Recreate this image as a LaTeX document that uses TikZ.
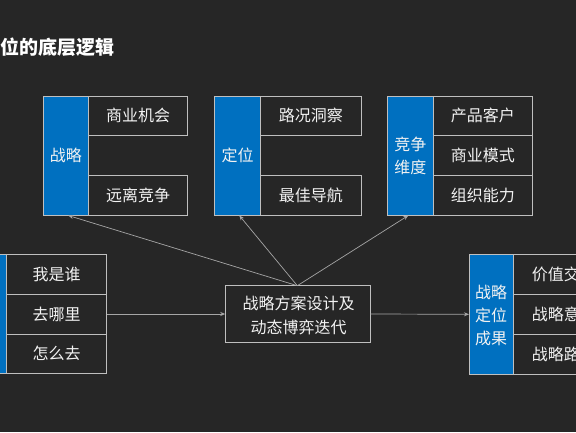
\documentclass[tikz,border=0pt]{standalone}
\usepackage{fontspec}
\setmainfont{Noto Sans CJK SC}
\usetikzlibrary{arrows.meta}
\definecolor{bg}{HTML}{262626}
\definecolor{blu}{HTML}{0070C0}
\definecolor{edge}{HTML}{BFBFBF}
\definecolor{wire}{HTML}{A6A6A6}
\definecolor{txt}{HTML}{F2F2F2}
\tikzset{
  cell/.style={draw=edge, line width=0.9pt, fill=bg, inner sep=0pt},
  bluecol/.style={draw=edge, line width=0.9pt, fill=blu, inner sep=0pt},
  lbl/.style={text=txt, font=\fontsize{16}{23}\selectfont, align=center, inner sep=0pt},
  wirearrow/.style={draw=wire, line width=0.7pt, -{Stealth[length=5pt,width=4pt]}},
}
\begin{document}
\begin{tikzpicture}[x=1pt,y=-1pt]
\useasboundingbox (0,0) rectangle (576,432);
\clip (0,0) rectangle (576,432);
\fill[bg] (0,0) rectangle (576,432);
% title
\node[anchor=west, text=white, font=\fontsize{19}{22}\selectfont\bfseries, inner sep=0pt] (title) at (0,47) {位的底层逻辑};

% group 1: 战略
\draw[bluecol] (43.3,96) rectangle (88.3,215);
\draw[cell] (88.3,96) rectangle (187.7,135.7);
\draw[cell] (88.3,175.5) rectangle (187.7,215);
\node[lbl] (g1) at (65.8,155.5) {战略};
\node[lbl] (g1a) at (138,115.8) {商业机会};
\node[lbl] (g1b) at (138,195.2) {远离竞争};
\coordinate (g1bot) at (68.3,215.5);

% group 2: 定位
\draw[bluecol] (214.7,96) rectangle (260.7,215);
\draw[cell] (260.7,96) rectangle (361,135.7);
\draw[cell] (260.7,175.5) rectangle (361,215);
\node[lbl] (g2) at (237.7,155.5) {定位};
\node[lbl] (g2a) at (310.8,115.8) {路况洞察};
\node[lbl] (g2b) at (310.8,195.2) {最佳导航};
\coordinate (g2bot) at (239.3,215.5);

% group 3: 竞争维度
\draw[bluecol] (387.3,96) rectangle (433.3,215);
\draw[cell] (433.3,96) rectangle (532.3,135.7);
\draw[cell] (433.3,135.7) rectangle (532.3,175.5);
\draw[cell] (433.3,175.5) rectangle (532.3,215);
\node[lbl] (g3) at (410.3,155.5) {竞争\\维度};
\node[lbl] (g3a) at (482.8,115.8) {产品客户};
\node[lbl] (g3b) at (482.8,155.6) {商业模式};
\node[lbl] (g3c) at (482.8,195.2) {组织能力};
\coordinate (g3bot) at (408.3,215.5);

% group 4: left
\draw[bluecol] (-40,254) rectangle (6.7,373.5);
\draw[cell] (6.7,254) rectangle (106.7,294);
\draw[cell] (6.7,294) rectangle (106.7,334);
\draw[cell] (6.7,334) rectangle (106.7,373.5);
\node[lbl] (g4a) at (56.7,274) {我是谁};
\node[lbl] (g4b) at (56.7,314) {去哪里};
\node[lbl] (g4c) at (56.7,353.8) {怎么去};
\coordinate (g4out) at (106.7,314);

% center
\node[draw=edge, line width=0.9pt, fill=bg, minimum width=144.3pt, minimum height=56.6pt, inner sep=0pt] (mid) at (297.85,314) {};
\node[lbl, font=\fontsize{16}{24}\selectfont] (midtxt) at (298.7,315.3) {战略方案设计及\\动态博弈迭代};
\coordinate (midtop) at (297.3,285.7);

% group 5: right
\draw[bluecol] (469,254.3) rectangle (513.3,374.3);
\draw[cell] (513.3,254.3) rectangle (613,294.3);
\draw[cell] (513.3,294.3) rectangle (613,334.3);
\draw[cell] (513.3,334.3) rectangle (613,374.3);
\node[lbl] (g5) at (491.2,315) {战略\\定位\\成果};
\node[lbl, anchor=west] (g5a) at (531.7,274.3) {价值交};
\node[lbl, anchor=west] (g5b) at (531.7,314.3) {战略意};
\node[lbl, anchor=west] (g5c) at (531.7,354.3) {战略路};
\coordinate (g5in) at (469,314.3);

% connectors
\draw[wirearrow] (midtop) -- (g1bot);
\draw[wirearrow] (midtop) -- (g2bot);
\draw[wirearrow] (midtop) -- (g3bot);
\draw[wirearrow] (g4out) -- (mid.west);
\draw[wirearrow] (mid.east) -- (g5in);
\end{tikzpicture}
\end{document}
